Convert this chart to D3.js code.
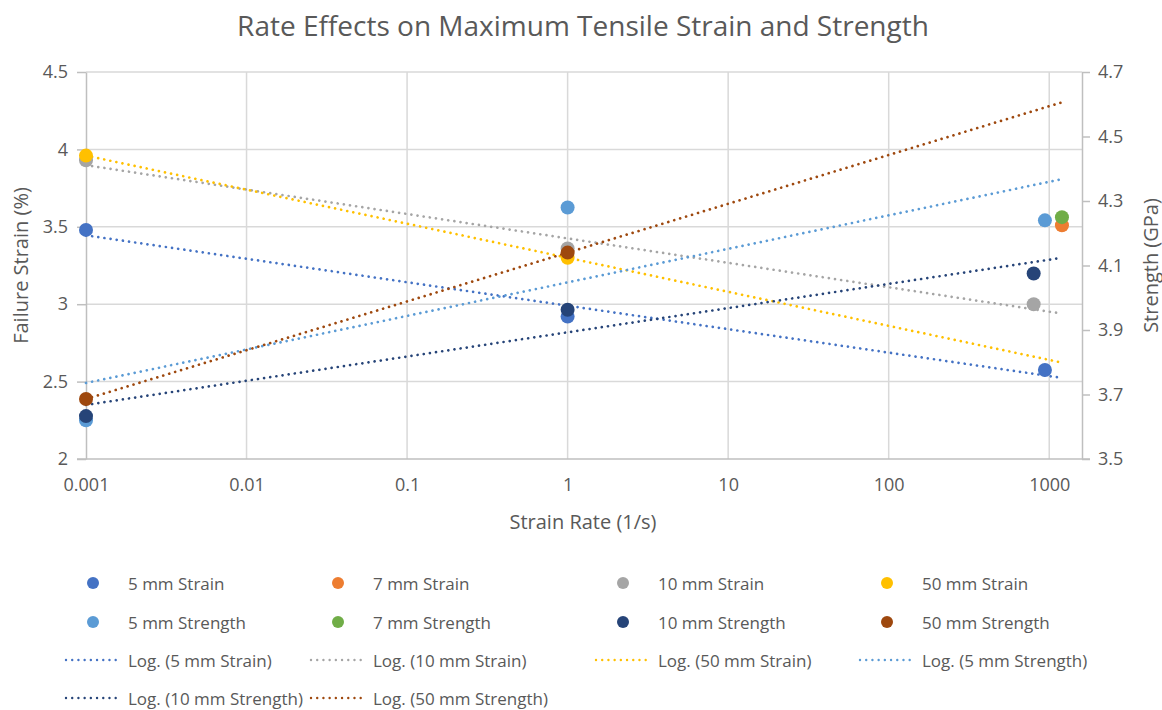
<!DOCTYPE html>
<html>
<head>
<meta charset="utf-8">
<script src="https://cdn.jsdelivr.net/npm/d3@7"></script>
<style>
  html, body { margin: 0; padding: 0; background: #ffffff; }
  svg { display: block; font-family: "Open Sans", "DejaVu Sans", sans-serif; }
</style>
</head>
<body>
<svg id="chart" width="1162" height="710"></svg>
<script>
// ---------- DATA ----------
const title = "Rate Effects on Maximum Tensile Strain and Strength";
const xTitle = "Strain Rate (1/s)";
const yLeftTitle = "Failure Strain (%)";
const yRightTitle = "Strength (GPa)";

const xTicks = [0.001, 0.01, 0.1, 1, 10, 100, 1000];
const xTickLabels = ["0.001", "0.01", "0.1", "1", "10", "100", "1000"];
const yLeftTicks = [2, 2.5, 3, 3.5, 4, 4.5];
const yLeftTickLabels = ["2", "2.5", "3", "3.5", "4", "4.5"];
const yRightTicks = [3.5, 3.7, 3.9, 4.1, 4.3, 4.5, 4.7];
const yRightTickLabels = ["3.5", "3.7", "3.9", "4.1", "4.3", "4.5", "4.7"];

const seriesNames = ["5 mm Strain", "7 mm Strain", "10 mm Strain", "50 mm Strain",
                     "5 mm Strength", "7 mm Strength", "10 mm Strength", "50 mm Strength"];
const seriesAxis = ["left", "left", "left", "left", "right", "right", "right", "right"];
const seriesColors = ["#4472C4", "#ED7D31", "#A5A5A5", "#FFC000",
                      "#5B9BD5", "#70AD47", "#264478", "#9E480E"];
const seriesHasTrend = [true, false, true, true, true, false, true, true];

const strain5Rates = [0.001, 1, 940];      const strain5Values = [3.48, 2.92, 2.575];
const strain7Rates = [1200];               const strain7Values = [3.51];
const strain10Rates = [0.001, 1, 800];     const strain10Values = [3.93, 3.36, 3.00];
const strain50Rates = [0.001, 1];          const strain50Values = [3.96, 3.30];
const strength5Rates = [0.001, 1, 940];    const strength5Values = [3.62, 4.28, 4.24];
const strength7Rates = [1200];             const strength7Values = [4.25];
const strength10Rates = [0.001, 1, 800];   const strength10Values = [3.633, 3.963, 4.075];
const strength50Rates = [0.001, 1];        const strength50Values = [3.686, 4.14];

const seriesRates = [strain5Rates, strain7Rates, strain10Rates, strain50Rates,
                     strength5Rates, strength7Rates, strength10Rates, strength50Rates];
const seriesValues = [strain5Values, strain7Values, strain10Values, strain50Values,
                      strength5Values, strength7Values, strength10Values, strength50Values];

const xDomain = [0.001, 1600];
const trendRange = [0.001, 1180];
const yLeftDomain = [2, 4.5];
const yRightDomain = [3.5, 4.7];

// ---------- LAYOUT ----------
const plot = { left: 86, right: 1082, top: 72, bottom: 459 };
const textColor = "#595959";
const gridColor = "#D9D9D9";
const axisColor = "#BFBFBF";

const svg = d3.select("#chart");

const x = d3.scaleLog().domain(xDomain).range([plot.left, plot.right]);
const yL = d3.scaleLinear().domain(yLeftDomain).range([plot.bottom, plot.top]);
const yR = d3.scaleLinear().domain(yRightDomain).range([plot.bottom, plot.top]);

// Title
svg.append("text")
  .attr("x", 583).attr("y", 25)
  .attr("text-anchor", "middle").attr("dominant-baseline", "central")
  .attr("fill", textColor).attr("font-size", 28)
  .text(title);

// Gridlines
const grid = svg.append("g");
grid.selectAll("line.h").data(yLeftTicks.filter(d => d !== yLeftDomain[0])).join("line")
  .attr("x1", plot.left).attr("x2", plot.right)
  .attr("y1", d => yL(d)).attr("y2", d => yL(d))
  .attr("stroke", gridColor).attr("stroke-width", 1.5);
grid.selectAll("line.v").data(xTicks.filter(d => d !== xDomain[0])).join("line")
  .attr("x1", d => x(d)).attr("x2", d => x(d))
  .attr("y1", plot.top).attr("y2", plot.bottom)
  .attr("stroke", gridColor).attr("stroke-width", 1.5);

// Axes
const leftAxis = d3.axisLeft(yL).tickValues(yLeftTicks)
  .tickFormat((d, i) => yLeftTickLabels[i]).tickSizeInner(9).tickSizeOuter(0).tickPadding(9);
const gL = svg.append("g").attr("transform", `translate(${plot.left},0)`).call(leftAxis);

const rightAxis = d3.axisRight(yR).tickValues(yRightTicks)
  .tickFormat((d, i) => yRightTickLabels[i]).tickSizeInner(8).tickSizeOuter(0).tickPadding(8);
const gR = svg.append("g").attr("transform", `translate(${plot.right},0)`).call(rightAxis);

const bottomAxis = d3.axisBottom(x).tickValues(xTicks)
  .tickFormat((d, i) => xTickLabels[i]).tickSize(0).tickPadding(19);
const gB = svg.append("g").attr("transform", `translate(0,${plot.bottom})`).call(bottomAxis);

[gL, gR, gB].forEach(g => {
  g.selectAll(".domain").attr("stroke", axisColor).attr("stroke-width", 1.5);
  g.selectAll(".tick line").attr("stroke", axisColor).attr("stroke-width", 1.5);
  g.selectAll(".tick text").attr("fill", textColor).attr("font-size", 18)
    .attr("font-family", "'Open Sans', sans-serif");
});
// extend bottom axis line to meet the left tick
gB.select(".domain").attr("d", `M${plot.left - 9},0H${plot.right + 8}`);

// Axis titles
svg.append("text")
  .attr("x", 583).attr("y", 521)
  .attr("text-anchor", "middle").attr("dominant-baseline", "central")
  .attr("fill", textColor).attr("font-size", 20).text(xTitle);
svg.append("text")
  .attr("transform", `translate(20,${(plot.top + plot.bottom) / 2}) rotate(-90)`)
  .attr("text-anchor", "middle").attr("dominant-baseline", "central")
  .attr("fill", textColor).attr("font-size", 20).text(yLeftTitle);
svg.append("text")
  .attr("transform", `translate(1150,${(plot.top + plot.bottom) / 2}) rotate(-90)`)
  .attr("text-anchor", "middle").attr("dominant-baseline", "central")
  .attr("fill", textColor).attr("font-size", 20).text(yRightTitle);

// Log trendlines (least squares on log10 x)
function logFit(rates, values) {
  const lx = rates.map(r => Math.log10(r));
  const mx = d3.mean(lx), my = d3.mean(values);
  let sxy = 0, sxx = 0;
  lx.forEach((v, i) => { sxy += (v - mx) * (values[i] - my); sxx += (v - mx) * (v - mx); });
  const b = sxx === 0 ? 0 : sxy / sxx;
  const a = my - b * mx;
  return r => a + b * Math.log10(r);
}
const dotDash = "0.01 6.2";
const trendG = svg.append("g");
const lineGen = d3.line();
seriesNames.forEach((name, i) => {
  if (!seriesHasTrend[i]) return;
  const f = logFit(seriesRates[i], seriesValues[i]);
  const ys = seriesAxis[i] === "left" ? yL : yR;
  const pts = trendRange.map(r => [x(r), ys(f(r))]);
  trendG.append("path")
    .attr("d", lineGen(pts))
    .attr("fill", "none")
    .attr("stroke", seriesColors[i])
    .attr("stroke-width", 2.7)
    .attr("stroke-linecap", "round")
    .attr("stroke-dasharray", dotDash);
});

// Markers
const markG = svg.append("g");
seriesNames.forEach((name, i) => {
  const ys = seriesAxis[i] === "left" ? yL : yR;
  const pts = seriesRates[i].map((r, j) => ({ r, v: seriesValues[i][j] }));
  markG.append("g").selectAll("circle").data(pts).join("circle")
    .attr("cx", d => x(d.r)).attr("cy", d => ys(d.v))
    .attr("r", 7).attr("fill", seriesColors[i]);
});

// Legend
const legendColX = [128, 373, 658, 922];
const legendRowY = [583, 622, 660, 698];
const legendItems = [];
seriesNames.forEach((n, i) => legendItems.push({ type: "marker", label: n, color: seriesColors[i] }));
seriesNames.forEach((n, i) => {
  if (seriesHasTrend[i]) legendItems.push({ type: "line", label: `Log. (${n})`, color: seriesColors[i] });
});
const lg = svg.append("g");
legendItems.forEach((item, k) => {
  const tx = legendColX[k % 4];
  const ty = legendRowY[Math.floor(k / 4)];
  if (item.type === "marker") {
    lg.append("circle").attr("cx", tx - 35).attr("cy", ty).attr("r", 6).attr("fill", item.color);
  } else {
    lg.append("path").attr("d", `M${tx - 62},${ty}H${tx - 11}`)
      .attr("stroke", item.color).attr("stroke-width", 2.4)
      .attr("stroke-linecap", "round").attr("stroke-dasharray", dotDash).attr("fill", "none");
  }
  lg.append("text").attr("x", tx).attr("y", ty)
    .attr("dominant-baseline", "central").attr("fill", textColor)
    .attr("font-size", 17).text(item.label);
});
</script>
</body>
</html>
